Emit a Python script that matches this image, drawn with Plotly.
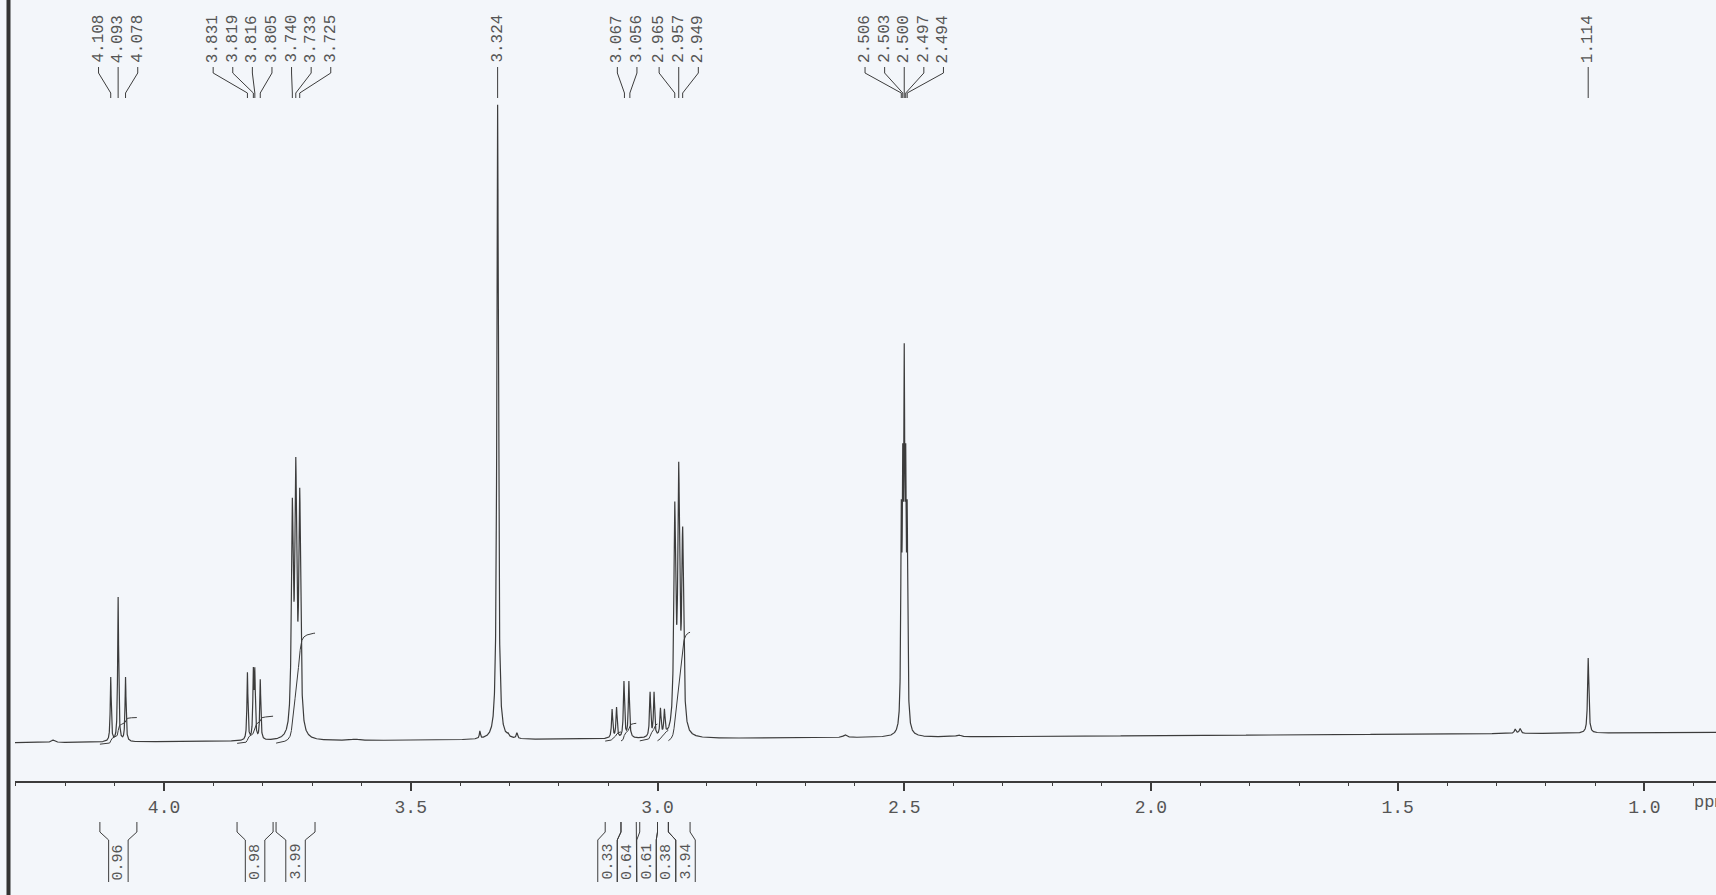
import numpy as np
import plotly.graph_objects as go

# ---------------- data ----------------
# chemical-shift axis (ppm), drawn right-to-left
X_RANGE = [4.302, 0.855]
MAJOR_DTICK = 0.5
MINOR_DTICK = 0.1

# baseline drift of the printed trace (chart units: height above page bottom)
BASE_PPM = [4.30, 0.86]
BASE_LEVEL = [152.3, 162.7]

# resolved lines of the spectrum: position, apparent height above baseline, half width
LINE_PPM = [4.225, 4.108, 4.093, 4.078,
            3.831, 3.819, 3.816, 3.805,
            3.740, 3.733, 3.725, 3.613,
            3.360, 3.324, 3.303, 3.285,
            3.092, 3.083, 3.068, 3.058,
            3.015, 3.007, 2.994, 2.986,
            2.965, 2.957, 2.949, 2.620,
            2.506, 2.503, 2.500, 2.497, 2.494,
            2.390, 1.262, 1.252, 1.114]
LINE_HEIGHT = [2.5, 65, 145, 65,
               69, 74, 74, 62,
               243, 284, 253, 1.5,
               9, 635, 7, 7,
               30, 32, 58, 58,
               47, 47, 31, 30,
               237, 277, 212, 3,
               237, 294, 394, 294, 237,
               2, 4.5, 5, 75]
LINE_HWHM = [0.004, 0.0012, 0.0012, 0.0012,
             0.0012, 0.0012, 0.0012, 0.0012,
             0.0022, 0.0022, 0.0022, 0.010,
             0.0012, 0.0018, 0.0015, 0.0015,
             0.0014, 0.0014, 0.0014, 0.0014,
             0.0014, 0.0014, 0.0014, 0.0014,
             0.0022, 0.0022, 0.0022, 0.004,
             0.0012, 0.0012, 0.0012, 0.0012, 0.0012,
             0.005, 0.002, 0.002, 0.0015]

# printed peak picks
PEAK_LABELS = [4.108, 4.093, 4.078,
               3.831, 3.819, 3.816, 3.805, 3.740, 3.733, 3.725,
               3.324,
               3.067, 3.056, 2.965, 2.957, 2.949,
               2.506, 2.503, 2.500, 2.497, 2.494,
               1.114]

# integrals: region start, region end, value
INTEG_FROM = [4.130, 3.852, 3.773, 3.106, 3.074, 3.036, 3.000, 2.978]
INTEG_TO = [4.055, 3.779, 3.694, 3.074, 3.043, 3.000, 2.978, 2.934]
INTEG_VALUE = [0.96, 0.98, 3.99, 0.33, 0.64, 0.61, 0.38, 3.94]

# ---------------- style / layout constants ----------------
W, H = 1716, 895
ML = 15
PX_PER_PPM = (W - ML) / (X_RANGE[0] - X_RANGE[1])
INK = "#3c3c3c"
TEXT = "#555555"
PAPER = "#f3f6fa"
FONT = "Liberation Mono"
INTEG_SCALE = 27.5
LABEL_STEP = 19.6 / PX_PER_PPM
BOX_W = 19.5 / PX_PER_PPM


def baseline(x):
    x = np.asarray(x, dtype=float)
    s = (BASE_LEVEL[1] - BASE_LEVEL[0]) / (BASE_PPM[1] - BASE_PPM[0])
    return BASE_LEVEL[0] + (x - BASE_PPM[0]) * s


def lorentz(x, p, g):
    return g * g / ((x - p) ** 2 + g * g)


# amplitudes such that the summed curve reaches the read heights at each line
pp = np.array(LINE_PPM)
gg = np.array(LINE_HWHM)
M = np.array([[lorentz(pi, pj, gj) for pj, gj in zip(pp, gg)] for pi in pp])
amps = np.clip(np.linalg.solve(M, np.array(LINE_HEIGHT, dtype=float)), 0, None)

x = np.concatenate([np.linspace(X_RANGE[0], X_RANGE[1], 24000), pp])
x = np.unique(x)[::-1]
signal = np.zeros_like(x)
for a, p, g in zip(amps, pp, gg):
    signal += a * lorentz(x, p, g)
y = baseline(x) + signal

# integral curves
ix, iy = [], []
for a, b, v in zip(INTEG_FROM, INTEG_TO, INTEG_VALUE):
    m = (x <= a) & (x >= b)
    xs, ss = x[m], signal[m]
    cum = np.concatenate([[0.0], np.cumsum((ss[1:] + ss[:-1]) / 2 * np.abs(np.diff(xs)))])
    frac = cum / cum[-1]
    ys = baseline(xs) - 2 + v * INTEG_SCALE * frac
    ix += list(xs) + [None]
    iy += list(ys) + [None]


def spread(centers, step):
    """place labels at least `step` apart, clusters centred on their members"""
    order = sorted(range(len(centers)), key=lambda i: -centers[i])
    u = [-centers[i] for i in order]
    clusters = [[k] for k in range(len(u))]

    def layout(c):
        mean = sum(u[k] for k in c) / len(c)
        return [mean + (j - (len(c) - 1) / 2) * step for j in range(len(c))]

    changed = True
    while changed:
        changed = False
        for k in range(len(clusters) - 1):
            if layout(clusters[k])[-1] + step > layout(clusters[k + 1])[0] + 1e-9:
                clusters[k] = clusters[k] + clusters.pop(k + 1)
                changed = True
                break
    pos = [0.0] * len(centers)
    for c in clusters:
        for k, q in zip(c, layout(c)):
            pos[order[k]] = -q
    return pos


# peak-pick labels and leader lines
lab_x = spread(PEAK_LABELS, LABEL_STEP)
Y_TXT, Y_L0, Y_L1, Y_L2, Y_L3 = 830, 828, 822, 802, 797
cx, cy = [], []
annotations = []
for p, lx in zip(PEAK_LABELS, lab_x):
    cx += [lx, lx, p, p, None]
    cy += [Y_L0, Y_L1, Y_L2, Y_L3, None]
    annotations.append(dict(x=lx, y=Y_TXT, xref="x", yref="y", text=f"{p:.3f}",
                            textangle=-90, showarrow=False, xanchor="center", yanchor="bottom",
                            font=dict(family=FONT, size=16, color=TEXT)))

# integral brackets and values
centers = [(a + b) / 2 for a, b in zip(INTEG_FROM, INTEG_TO)]
box_c = spread(centers, BOX_W)
B_TOP, B_BEND, B_BOX, B_BOT, B_TXT = 73, 63, 55, 13, 33
bx, by = [], []
for a, b, c, v in zip(INTEG_FROM, INTEG_TO, box_c, INTEG_VALUE):
    left, right = c + BOX_W / 2, c - BOX_W / 2
    bx += [a, a, left, left, None, b, b, right, right, None]
    by += [B_TOP, B_BEND, B_BOX, B_BOT, None, B_TOP, B_BEND, B_BOX, B_BOT, None]
    annotations.append(dict(x=c, y=B_TXT, xref="x", yref="y", text=f"{v:.2f}",
                            textangle=-90, showarrow=False, xanchor="center", yanchor="middle",
                            font=dict(family=FONT, size=15, color=TEXT)))

annotations.append(dict(x=0.904, y=93, xref="x", yref="y", text="ppm", showarrow=False,
                        xanchor="left", yanchor="middle",
                        font=dict(family=FONT, size=17, color=TEXT)))

fig = go.Figure()
fig.add_trace(go.Scatter(x=x, y=y, mode="lines", line=dict(color=INK, width=1.2),
                         hoverinfo="skip", showlegend=False))
fig.add_trace(go.Scatter(x=ix, y=iy, mode="lines", line=dict(color=INK, width=1),
                         hoverinfo="skip", showlegend=False))
fig.add_trace(go.Scatter(x=cx, y=cy, mode="lines", line=dict(color=INK, width=1),
                         hoverinfo="skip", showlegend=False, cliponaxis=False))
fig.add_trace(go.Scatter(x=bx, y=by, mode="lines", line=dict(color=INK, width=1),
                         hoverinfo="skip", showlegend=False, cliponaxis=False))

fig.update_layout(
    width=W, height=H,
    margin=dict(l=ML, r=0, t=0, b=0, autoexpand=False),
    paper_bgcolor=PAPER, plot_bgcolor=PAPER,
    annotations=annotations,
    shapes=[dict(type="line", xref="paper", yref="paper", x0=(8.5 - ML) / (W - ML),
                 x1=(8.5 - ML) / (W - ML), y0=0, y1=1, line=dict(color="#333333", width=4))],
    xaxis=dict(range=X_RANGE, anchor="free", position=(H - 781.5) / H,
               showgrid=False, zeroline=False, showline=True, linecolor=INK, linewidth=1.5,
               tickmode="linear", tick0=0, dtick=MAJOR_DTICK, ticks="outside", ticklen=9,
               tickwidth=1.5, tickcolor=INK, tickformat=".1f", automargin=False,
               tickfont=dict(family=FONT, size=18, color=TEXT),
               minor=dict(dtick=MINOR_DTICK, tick0=0, ticks="outside", ticklen=4,
                          tickwidth=1, tickcolor=INK),
               fixedrange=True),
    yaxis=dict(range=[0, H], visible=False, fixedrange=True),
)

fig.write_html("out.html", config={"displayModeBar": False},
               post_script="document.body.style.margin='0';"
                           "document.body.style.overflow='hidden';"
                           f"document.body.style.background='{PAPER}';")
